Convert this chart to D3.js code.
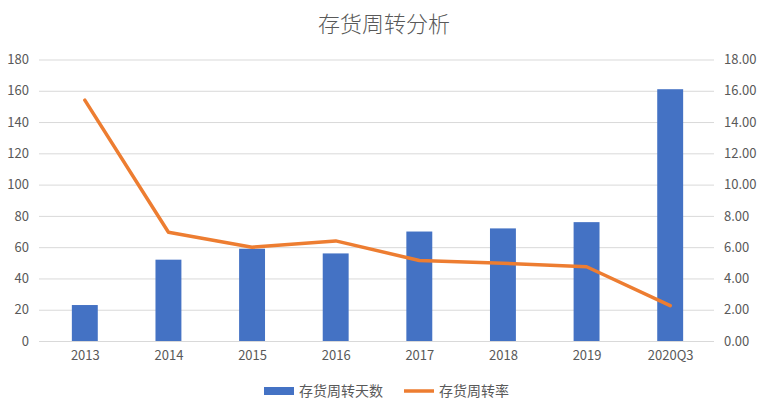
<!DOCTYPE html>
<html>
<head>
<meta charset="utf-8">
<script src="https://cdn.jsdelivr.net/npm/d3@7"></script>
<style>
  body { margin: 0; background: #fff; }
  svg text { font-family: "Noto Sans CJK SC", "Liberation Sans", sans-serif; fill: #595959; }
</style>
</head>
<body>
<div id="chart"></div>
<script>
const categories = ["2013", "2014", "2015", "2016", "2017", "2018", "2019", "2020Q3"];
const turnoverDays = [23, 52, 59, 56, 70, 72, 76, 161];
const turnoverRate = [15.4, 6.95, 6.0, 6.4, 5.15, 4.97, 4.75, 2.26];
const leftTicks = [0, 20, 40, 60, 80, 100, 120, 140, 160, 180];
const rightTicks = [0, 2, 4, 6, 8, 10, 12, 14, 16, 18];
const seriesNames = ["存货周转天数", "存货周转率"];
const title = "存货周转分析";

const W = 768, H = 407;
const margin = {top: 59.5, right: 56, bottom: 66, left: 43};
const width = W - margin.left - margin.right;
const height = H - margin.top - margin.bottom;

const svg = d3.select("#chart").append("svg")
    .attr("width", W)
    .attr("height", H);

svg.append("text")
    .attr("x", W / 2)
    .attr("y", 32)
    .attr("text-anchor", "middle")
    .style("font-size", "22px")
    .style("font-weight", "300")
    .text(title);

const g = svg.append("g")
    .attr("transform", `translate(${margin.left},${margin.top})`);

const x = d3.scaleBand().domain(categories).range([0, width]).paddingInner(0.69).paddingOuter(0.345);
const xc = d3.scalePoint().domain(categories).range([0, width]).padding(0.5);
const yL = d3.scaleLinear().domain([0, 180]).range([height, 0]);
const yR = d3.scaleLinear().domain([0, 18]).range([height, 0]);

// gridlines
g.append("g")
    .selectAll("line")
    .data(leftTicks)
    .join("line")
    .attr("x1", -4)
    .attr("x2", width + 2)
    .attr("y1", d => yL(d) + 0.5)
    .attr("y2", d => yL(d) + 0.5)
    .attr("stroke", "#d9d9d9")
    .attr("stroke-width", 1);

// left axis
const leftAxis = g.append("g")
    .call(d3.axisLeft(yL).tickValues(leftTicks).tickSize(0).tickPadding(14));
leftAxis.select(".domain").remove();
leftAxis.selectAll("text").style("font-size", "13px").attr("fill", "#595959");

// right axis
const rightAxis = g.append("g")
    .attr("transform", `translate(${width},0)`)
    .call(d3.axisRight(yR).tickValues(rightTicks).tickSize(0).tickPadding(12).tickFormat(d3.format(".2f")));
rightAxis.select(".domain").remove();
rightAxis.selectAll("text").style("font-size", "13px").attr("fill", "#595959");

// bottom axis
const bottomAxis = g.append("g")
    .attr("transform", `translate(0,${height})`)
    .call(d3.axisBottom(xc).tickSize(0).tickPadding(10));
bottomAxis.select(".domain").remove();
bottomAxis.selectAll("text").style("font-size", "13px").attr("fill", "#595959");

// bars
g.selectAll(".bar")
    .data(categories.map((c, i) => ({cat: c, v: turnoverDays[i]})))
    .join("rect")
    .attr("class", "bar")
    .attr("x", d => xc(d.cat) - x.bandwidth() / 2)
    .attr("width", x.bandwidth())
    .attr("y", d => yL(d.v))
    .attr("height", d => height - yL(d.v))
    .attr("fill", "#4472C4");

// line
const line = d3.line()
    .x((d, i) => xc(categories[i]))
    .y(d => yR(d));

g.append("path")
    .datum(turnoverRate)
    .attr("d", line)
    .attr("fill", "none")
    .attr("stroke", "#ED7D31")
    .attr("stroke-width", 3.5)
    .attr("stroke-linejoin", "round")
    .attr("stroke-linecap", "round");

// legend
const legend = svg.append("g");
legend.append("rect")
    .attr("x", 264).attr("y", 387).attr("width", 30).attr("height", 8)
    .attr("fill", "#4472C4");
legend.append("text")
    .attr("x", 299).attr("y", 396)
    .style("font-size", "14px")
    .text(seriesNames[0]);
legend.append("line")
    .attr("x1", 404).attr("x2", 434).attr("y1", 391).attr("y2", 391)
    .attr("stroke", "#ED7D31").attr("stroke-width", 3.5);
legend.append("text")
    .attr("x", 439).attr("y", 396)
    .style("font-size", "14px")
    .text(seriesNames[1]);
</script>
</body>
</html>
